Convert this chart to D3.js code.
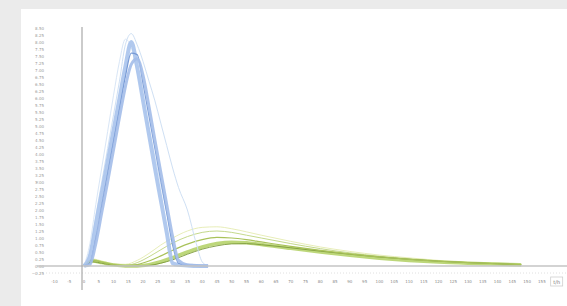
<!DOCTYPE html>
<html>
<head>
<meta charset="utf-8">
<script src="https://cdn.jsdelivr.net/npm/d3@7"></script>
<style>
  html, body { margin: 0; padding: 0; background: #ebebeb; }
  svg { display: block; font-family: "DejaVu Sans", sans-serif; }
</style>
</head>
<body>
<div id="chart"></div>
<script>
// sample times (h) for the two groups of curves
var blueTimes = [0, 2, 4, 6, 8, 10, 12, 14, 16, 18, 20, 22, 24, 26, 28, 30, 32, 35, 38, 40, 42];
var greenTimes = [0, 3, 6, 10, 14, 18, 22, 26, 30, 35, 40, 45, 50, 55, 60, 70, 80, 90, 100, 110, 120, 130, 140, 148];

// blue group
var blueA = [0, 0.36, 1.48, 2.6, 3.73, 4.85, 5.98, 7.12, 8.0, 7.1, 5.9, 4.7, 3.5, 2.35, 1.2, 0.1, 0.04, 0.02, 0, 0, 0];
var blueB = [0, 0.1, 1.0, 2.15, 3.3, 4.45, 5.6, 6.75, 7.6, 7.55, 6.5, 5.35, 4.2, 3.05, 1.9, 0.75, 0.1, 0.03, 0.02, 0, 0];
var blueC = [0, 0.05, 0.8, 1.9, 3.0, 4.15, 5.3, 6.4, 7.2, 7.4, 6.8, 5.7, 4.5, 3.35, 2.2, 1.05, 0.2, 0.04, 0.02, 0, 0];
var blueD = [0, 0.5, 1.8, 3.0, 4.2, 5.4, 6.6, 7.9, 8.3, 7.9, 7.3, 6.6, 5.9, 5.1, 4.3, 3.5, 2.8, 2.0, 0.8, 0.15, 0];
var blueE = [0, 0.8, 2.2, 3.5, 4.8, 6.1, 7.3, 8.1, 7.8, 6.9, 5.9, 4.9, 3.9, 2.9, 1.9, 0.9, 0.2, 0.03, 0, 0, 0];

// green group
var greenA = [0, 0.18, 0.12, 0.04, 0.0, 0.0, 0.05, 0.15, 0.3, 0.5, 0.68, 0.8, 0.85, 0.83, 0.77, 0.63, 0.5, 0.38, 0.28, 0.2, 0.14, 0.1, 0.07, 0.04];
var greenB = [0, 0.15, 0.1, 0.03, 0, 0, 0.02, 0.1, 0.22, 0.42, 0.6, 0.72, 0.79, 0.8, 0.76, 0.65, 0.53, 0.42, 0.32, 0.24, 0.17, 0.12, 0.08, 0.05];
var greenC = [0, 0.2, 0.14, 0.05, 0.01, 0.05, 0.18, 0.36, 0.56, 0.78, 0.94, 1.02, 1.0, 0.94, 0.86, 0.7, 0.56, 0.43, 0.33, 0.24, 0.17, 0.12, 0.08, 0.05];
var greenD = [0, 0.22, 0.15, 0.05, 0.02, 0.12, 0.33, 0.58, 0.82, 1.05, 1.2, 1.25, 1.2, 1.1, 1.0, 0.8, 0.62, 0.47, 0.35, 0.26, 0.18, 0.12, 0.08, 0.05];
var greenE = [0, 0.25, 0.18, 0.08, 0.06, 0.2, 0.45, 0.75, 1.0, 1.25, 1.38, 1.4, 1.33, 1.22, 1.1, 0.88, 0.68, 0.52, 0.39, 0.29, 0.2, 0.13, 0.09, 0.05];

var xTicks = d3.range(-10, 160, 5);
var yTicks = d3.range(-1, 35).map(function(i){ return i * 0.25; });

var W = 567, H = 306;

var svg = d3.select('#chart').append('svg')
            .attr('width', W)
            .attr('height', H);

svg.append('rect')
   .attr('x', 21).attr('y', 9)
   .attr('width', W - 21).attr('height', H - 9)
   .attr('fill', '#ffffff');

var x = d3.scaleLinear().domain([0, 155]).range([84, 541.9]);
var y = d3.scaleLinear().domain([0, 8.5]).range([266, 28]);

// faint dotted line under the zero line
svg.append('line')
   .attr('x1', 37).attr('x2', W)
   .attr('y1', y(-0.25)).attr('y2', y(-0.25))
   .attr('stroke', '#d8d8d8')
   .attr('stroke-dasharray', '1,2')
   .attr('stroke-width', 0.8);

// y tick labels
svg.append('g')
   .selectAll('text')
   .data(yTicks)
   .enter().append('text')
   .attr('x', 44)
   .attr('y', function(d){ return y(d) + 1.5; })
   .attr('text-anchor', 'end')
   .attr('font-size', 4)
   .attr('fill', '#9a9a9a')
   .text(function(d){ return d3.format('.2f')(d); });

// x tick labels
svg.append('g')
   .selectAll('text')
   .data(xTicks)
   .enter().append('text')
   .attr('x', function(d){ return x(d); })
   .attr('y', 283)
   .attr('text-anchor', 'middle')
   .attr('font-size', 4)
   .attr('fill', '#8a8a8a')
   .text(function(d){ return d; });

// axis title box at the end of the x axis
var tx = x(160);
svg.append('rect')
   .attr('x', tx - 6).attr('y', 277)
   .attr('width', 12).attr('height', 9)
   .attr('fill', '#ffffff')
   .attr('stroke', '#cfcfcf')
   .attr('stroke-width', 0.8);
svg.append('text')
   .attr('x', tx).attr('y', 283.5)
   .attr('text-anchor', 'middle')
   .attr('font-size', 5)
   .attr('fill', '#777')
   .text('t/h');

// y axis title
svg.append('text')
   .attr('transform', 'translate(38,182) rotate(-90)')
   .attr('text-anchor', 'middle')
   .attr('font-size', 4)
   .attr('fill', '#999')
   .text('c');

function drawGroup(times, series, styles){
    var line = d3.line()
                 .x(function(d, i){ return x(times[i]); })
                 .y(function(d){ return y(d); })
                 .curve(d3.curveMonotoneX);
    series.forEach(function(s, i){
        svg.append('path')
           .datum(s)
           .attr('d', line)
           .attr('fill', 'none')
           .attr('stroke', styles[i].color)
           .attr('stroke-width', styles[i].width)
           .attr('stroke-opacity', styles[i].opacity)
           .attr('stroke-linejoin', 'round');
    });
}

// green curves
drawGroup(greenTimes, [greenE, greenD, greenA, greenB, greenC], [
    {color: '#e4ebb0', width: 1, opacity: 0.9},
    {color: '#c5d98c', width: 1, opacity: 1},
    {color: '#b6d36c', width: 3.5, opacity: 0.9},
    {color: '#7d9a3c', width: 1, opacity: 0.9},
    {color: '#a9c25a', width: 1.2, opacity: 1}
]);

// blue curves
drawGroup(blueTimes, [blueD, blueE, blueA, blueB, blueC], [
    {color: '#cfe0f4', width: 1, opacity: 1},
    {color: '#d9e6f6', width: 1, opacity: 1},
    {color: '#a9c3ec', width: 4, opacity: 0.9},
    {color: '#6f93d2', width: 1.2, opacity: 0.9},
    {color: '#a3bde9', width: 3, opacity: 0.9}
]);

// zero line and y axis on top
svg.append('line')
   .attr('x1', 37).attr('x2', W)
   .attr('y1', y(0)).attr('y2', y(0))
   .attr('stroke', '#c4c4c4')
   .attr('stroke-width', 1.5);

svg.append('line')
   .attr('x1', x(0) - 2).attr('x2', x(0) - 2)
   .attr('y1', 27).attr('y2', 290)
   .attr('stroke', '#a8a8a8')
   .attr('stroke-width', 1.2);
</script>
</body>
</html>
